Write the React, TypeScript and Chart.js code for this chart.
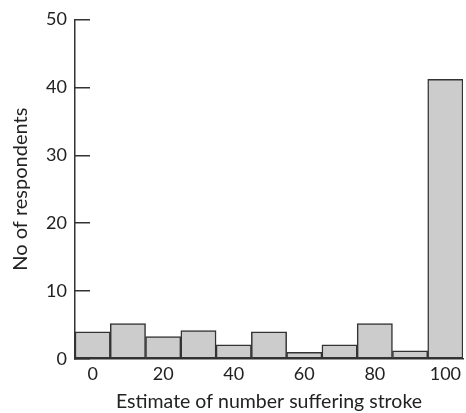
import React, { useEffect, useRef } from "react";
import { Chart, registerables } from "chart.js";

Chart.register(...registerables);

const categories: number[] = [0, 10, 20, 30, 40, 50, 60, 70, 80, 90, 100];
const respondents: number[] = [4, 5.2, 3.3, 4.2, 2.1, 4, 1, 2.1, 5.2, 1.2, 41.2];
const xTickLabels: string[] = ["0", "20", "40", "60", "80", "100"];
const yTicks: number[] = [0, 10, 20, 30, 40, 50];
const xTitle = "Estimate of number suffering stroke";
const yTitle = "No of respondents";

const FONT = "Lato, sans-serif";
const INK = "#222222";

export default function App() {
  const ref = useRef<HTMLCanvasElement | null>(null);

  useEffect(() => {
    if (!ref.current) return;
    const chart = new Chart(ref.current, {
      type: "bar",
      data: {
        labels: categories.map(String),
        datasets: [
          {
            data: respondents,
            backgroundColor: "#cccccc",
            borderColor: "#333333",
            borderWidth: 1.5,
            borderSkipped: false,
            barPercentage: 1,
            categoryPercentage: 1,
          },
        ],
      },
      options: {
        animation: false,
        responsive: true,
        maintainAspectRatio: false,
        layout: { padding: { top: 19.5, right: 3, bottom: -4, left: 5 } },
        plugins: { legend: { display: false }, tooltip: { enabled: false } },
        scales: {
          x: {
            type: "category",
            grid: { display: false, drawTicks: false },
            border: { display: true, color: "#333333", width: 1.5 },
            ticks: {
              color: INK,
              font: { family: FONT, size: 18 },
              padding: 4,
              autoSkip: false,
              maxRotation: 0,
              callback: (_v: any, i: number) => {
                const s = String(categories[i]);
                return xTickLabels.includes(s) ? s : "";
              },
            },
            title: {
              display: true,
              text: xTitle,
              color: INK,
              font: { family: FONT, size: 19.5 },
            },
            afterFit: (s: any) => {
              s.height = 58;
              s.paddingLeft = 0;
              s.paddingRight = 0;
            },
          },
          y: {
            type: "linear",
            min: yTicks[0],
            max: yTicks[yTicks.length - 1],
            grid: {
              drawOnChartArea: false,
              drawTicks: true,
              tickLength: -15,
              color: "#333333",
              lineWidth: 1.5,
            },
            border: { display: true, color: "#333333", width: 1.5 },
            ticks: {
              stepSize: 10,
              color: INK,
              font: { family: FONT, size: 18 },
              padding: 23,
            },
            title: {
              display: true,
              text: yTitle,
              color: INK,
              font: { family: FONT, size: 20 },
            },
            afterFit: (s: any) => {
              s.width = 70;
              s.paddingTop = 0;
              s.paddingBottom = 0;
            },
          },
        },
      },
    });
    return () => chart.destroy();
  }, []);

  return (
    <div style={{ position: "absolute", left: 0, top: 0, width: 466, height: 413 }}>
      <canvas ref={ref} />
    </div>
  );
}
